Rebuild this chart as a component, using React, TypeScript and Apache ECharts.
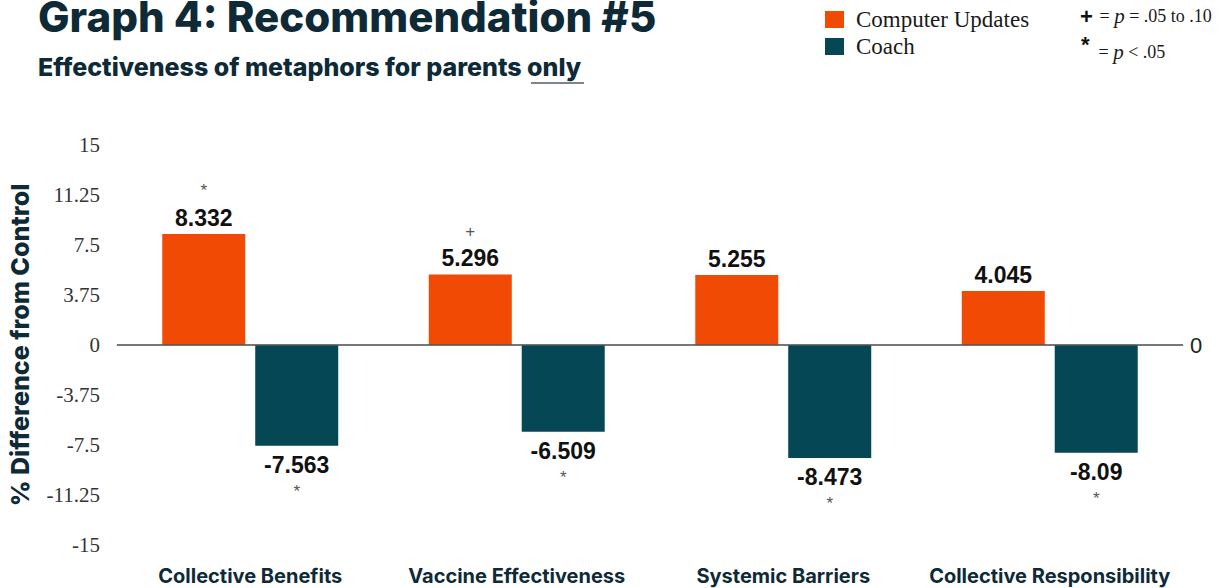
import React, { useEffect, useRef } from "react";
import * as echarts from "echarts";

const categories = [
  "Collective Benefits",
  "Vaccine Effectiveness",
  "Systemic Barriers",
  "Collective Responsibility",
];
const computerUpdates = [8.332, 5.296, 5.255, 4.045];
const coach = [-7.563, -6.509, -8.473, -8.09];
const computerSig = ["*", "+", "", ""];
const coachSig = ["*", "*", "*", "*"];
const yMin = -15;
const yMax = 15;
const yStep = 3.75;

const ORANGE = "#F04A04";
const TEAL = "#064755";
const NAVY = "#0E2A37";
const HEAVY = "Inter";

export default function App() {
  const ref = useRef<HTMLDivElement>(null);
  useEffect(() => {
    document.body.style.margin = "0";
    const chart = echarts.init(ref.current!, null, { renderer: "svg" });
    const valueRich = {
      v: {
        fontFamily: "Liberation Sans",
        fontWeight: "bold",
        fontSize: 23,
        color: "#111",
        lineHeight: 26,
      },
      s: {
        fontFamily: "Liberation Sans",
        fontSize: 17,
        color: "#555",
        lineHeight: 28,
      },
    };
    chart.setOption({
      animation: false,
      backgroundColor: "#fff",
      grid: { left: 117, right: 47, top: 145, bottom: 43, outerBoundsMode: "none" },
      legend: {
        orient: "vertical",
        left: 820,
        top: 3,
        itemWidth: 19,
        itemHeight: 17,
        itemGap: 4,
        icon: "rect",
        textStyle: {
          fontFamily: "Liberation Serif",
          fontSize: 23,
          color: "#1a1a1a",
          padding: [0, 0, 0, 7],
        },
        data: ["Computer Updates", "Coach"],
      },
      graphic: [
        {
          type: "text",
          left: 38,
          top: -5,
          style: {
            text: "Graph 4: Recommendation #5",
            fontFamily: HEAVY,
            fontWeight: 800,
            fontSize: 42,
            fill: NAVY,
          },
        },
        {
          type: "text",
          left: 38,
          top: 54,
          style: {
            text: "Effectiveness of metaphors for parents only",
            fontFamily: HEAVY,
            fontWeight: 800,
            fontSize: 25,
            fill: NAVY,
          },
        },
        {
          type: "line",
          shape: { x1: 531, y1: 83, x2: 584, y2: 83 },
          style: { stroke: "#7d848a", lineWidth: 2 },
        },
        {
          type: "text",
          left: 1080,
          top: 5,
          style: {
            text: "{b|+}  {t|= }{i|p}{t| = .05 to .10}",
            rich: {
              b: { fontFamily: "Liberation Sans", fontWeight: "bold", fontSize: 22, fill: "#111" },
              t: { fontFamily: "Liberation Serif", fontSize: 18, fill: "#1a1a1a" },
              i: { fontFamily: "Liberation Serif", fontStyle: "italic", fontSize: 21, fill: "#1a1a1a" },
            },
          },
        },
        {
          type: "text",
          left: 1081,
          top: 33,
          style: {
            text: "{b|*}{t|  = }{i|p}{t| < .05}",
            rich: {
              b: { fontFamily: "Liberation Sans", fontWeight: "bold", fontSize: 22, fill: "#111", verticalAlign: "top" },
              t: { fontFamily: "Liberation Serif", fontSize: 18, fill: "#1a1a1a", padding: [8, 0, 0, 0] },
              i: { fontFamily: "Liberation Serif", fontStyle: "italic", fontSize: 21, fill: "#1a1a1a", padding: [8, 0, 0, 0] },
            },
          },
        },
      ],
      xAxis: {
        type: "category",
        data: categories,
        axisLine: { show: true, lineStyle: { color: "#cfd3d6", width: 1.5 } },
        axisTick: { show: false },
        axisLabel: {
          interval: 0,
          margin: 21,
          fontFamily: HEAVY,
          fontWeight: "bold",
          fontSize: 20,
          color: NAVY,
        },
      },
      yAxis: {
        type: "value",
        min: yMin,
        max: yMax,
        interval: yStep,
        name: "% Difference from Control",
        nameLocation: "middle",
        nameGap: 85,
        nameRotate: 90,
        nameTextStyle: {
          fontFamily: HEAVY,
          fontWeight: 800,
          fontSize: 25,
          color: NAVY,
        },
        axisLine: { show: false },
        axisTick: { show: false },
        splitLine: { show: false },
        axisLabel: {
          margin: 17,
          fontFamily: "Liberation Serif",
          fontSize: 21,
          color: "#333",
        },
      },
      series: [
        {
          name: "Computer Updates",
          type: "bar",
          data: computerUpdates,
          barWidth: 83,
          barGap: "12%",
          itemStyle: { color: ORANGE },
          label: {
            show: true,
            position: "top",
            distance: 3,
            formatter: (p: any) => {
              const m = computerSig[p.dataIndex];
              return m ? `{s|${m}}\n{v|${p.value}}` : `{v|${p.value}}`;
            },
            rich: valueRich,
          },
          markLine: {
            silent: true,
            symbol: "none",
            data: [{ yAxis: 0 }],
            lineStyle: { color: "#555", width: 1.5, type: "solid" },
            label: {
              show: true,
              position: "end",
              distance: 7,
              formatter: "0",
              fontFamily: "Liberation Sans",
              fontSize: 22,
              color: "#222",
            },
          },
        },
        {
          name: "Coach",
          type: "bar",
          data: coach,
          barWidth: 83,
          barGap: "12%",
          itemStyle: { color: TEAL },
          label: {
            show: true,
            position: "bottom",
            distance: 6,
            formatter: (p: any) => {
              const m = coachSig[p.dataIndex];
              return m ? `{v|${p.value}}\n{s|${m}}` : `{v|${p.value}}`;
            },
            rich: valueRich,
          },
        },
      ],
    });
    return () => chart.dispose();
  }, []);
  return (
    <div
      ref={ref}
      style={{ position: "fixed", left: 0, top: 0, width: 1230, height: 588 }}
    />
  );
}
